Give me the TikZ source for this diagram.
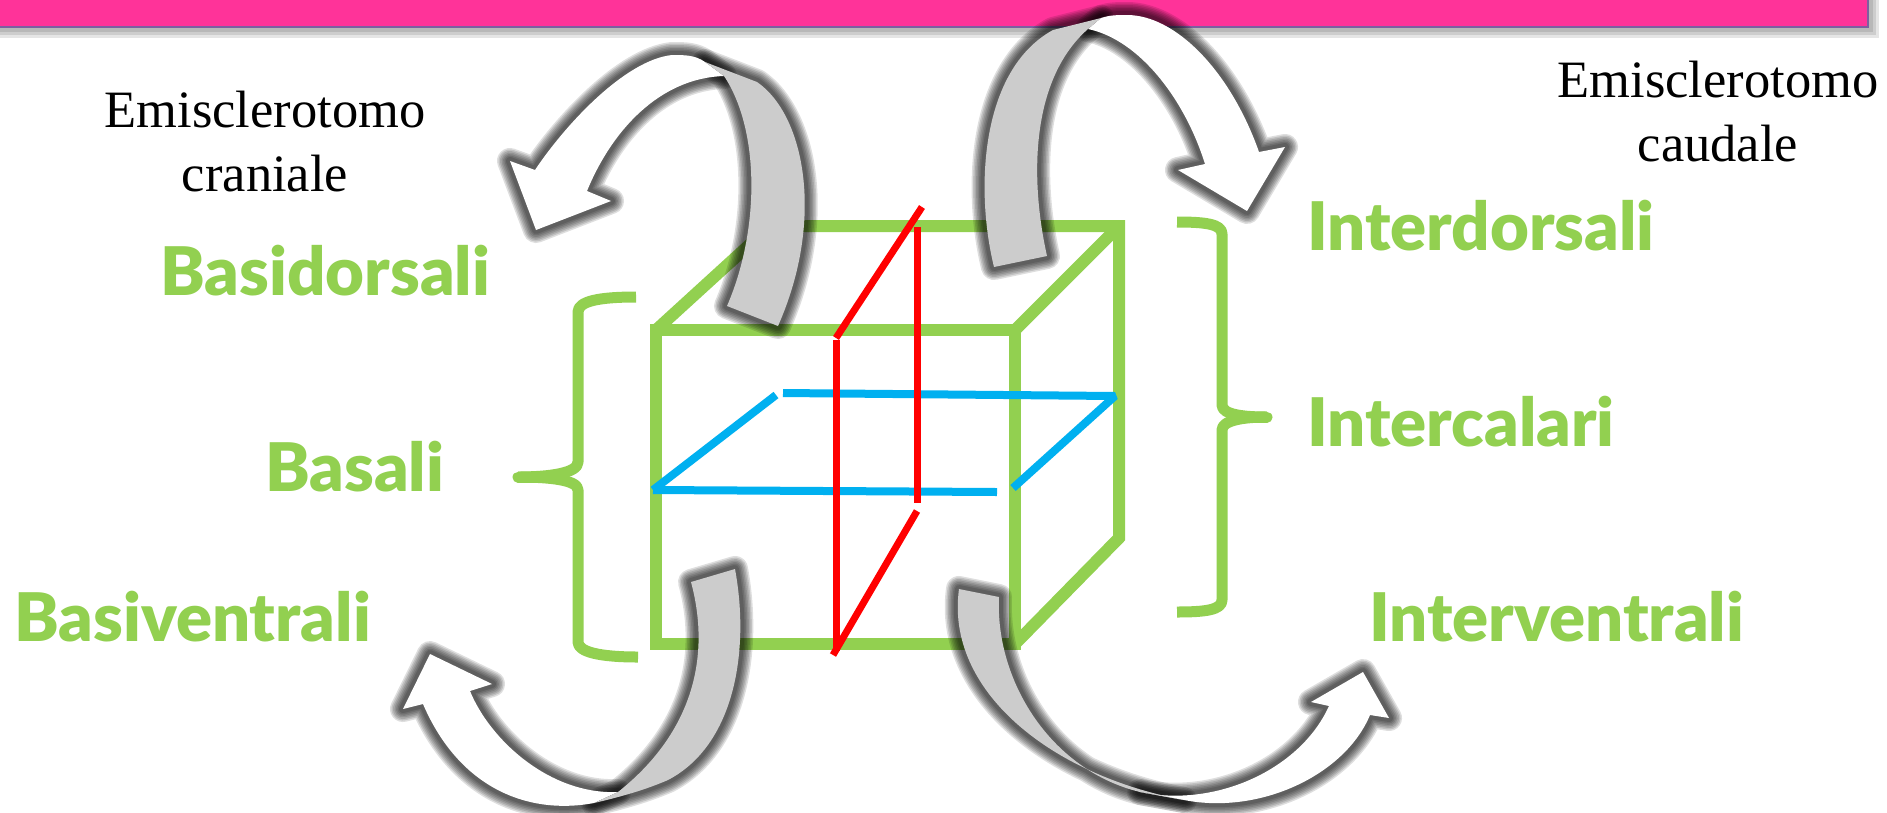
\documentclass[tikz,border=0pt]{standalone}
\usepackage{fontspec}
\setmainfont{Liberation Serif}
\newfontfamily\labelfont{Lato}[BoldFont={Lato Black}]
\usepackage{xcolor}
\definecolor{cubegreen}{RGB}{146,208,80}
\definecolor{barpink}{RGB}{255,51,153}
\definecolor{baredge}{RGB}{125,95,160}
\definecolor{planeblue}{RGB}{0,176,240}
\definecolor{bandgray}{RGB}{204,204,204}
\usetikzlibrary{
  positioning
}
\tikzset{
  cubeline/.style={draw=cubegreen, line width=12pt, line join=miter},
  redline/.style={draw=red, line width=7pt},
  blueline/.style={draw=planeblue, line width=8pt},
  bracket/.style={draw=cubegreen, line width=11pt, line join=round},
  greenlabel/.style={text=cubegreen, inner sep=0pt, anchor=base west,
    font=\labelfont\bfseries\fontsize{67}{70}\selectfont},
  blacklabel/.style={text=black, inner sep=0pt, align=center,
    font=\fontsize{52.5}{64}\selectfont},
  glow/.style={draw=black, opacity=0.13, line join=round},
  arrowface/.style={fill=white},
  bandface/.style={fill=bandgray},
}
% soft dark rim round a curved arrow
\newcommand{\glowpath}[1]{
  \foreach \w in {26,23,20,17,14,11,8} {
    \draw[glow, line width=\w pt] #1;
  }
}
\newcommand{\curvedarrow}[2]{
  \glowpath{#1}
  \glowpath{#2}
  \fill[arrowface] #1;
  \fill[bandface] #2;
}

\begin{document}
\begin{tikzpicture}[x=1pt, y=-1pt]
  \useasboundingbox (0,0) rectangle (1887,812);
  \fill[white] (0,0) rectangle (1887,812);

  % Top bar
  \foreach \w in {20,14,8} {
    \draw[draw=black, opacity=0.1, line width=\w pt] (-10,28) -- (1869,28) -- (1869,-10);
  }
  \fill[barpink, draw=baredge, line width=2pt] (-10,-10) rectangle (1868,27);

  % Cube
  \draw[cubeline] (656,330) rectangle (1015,644);
  \draw[cubeline] (656,330) -- (770,226) -- (1119,226) -- (1119,538) -- (1015,644);
  \draw[cubeline] (1015,330) -- (1119,226);

  % Blue plane
  \draw[blueline] (653,490) -- (997,492);
  \draw[blueline] (653,490) -- (776,395);
  \draw[blueline, line join=bevel] (783,393) -- (1115,396) -- (1013,488);

  % Red plane
  \draw[redline] (836,340) -- (836,651);
  \draw[redline] (917,227) -- (917,503);
  \draw[redline] (922,207) -- (836,338);
  \draw[redline] (917,511) -- (833,655);

  % Brackets
  \draw[bracket] (636,297) .. controls (600,297) and (578,301) .. (578,312)
    -- (578,462) .. controls (578,473) and (550,477) .. (518,477);
  \draw[bracket] (638,657) .. controls (600,657) and (578,652) .. (578,642)
    -- (578,490) .. controls (578,480) and (550,477) .. (518,477);
  \draw[bracket, line cap=round] (518,477) -- (535,477);
  \draw[bracket] (1177,222) .. controls (1205,222) and (1222,224) .. (1222,234)
    -- (1222,405) .. controls (1222,415) and (1245,417) .. (1267,417);
  \draw[bracket] (1177,612) .. controls (1205,612) and (1222,610) .. (1222,600)
    -- (1222,430) .. controls (1222,420) and (1245,417) .. (1267,417);
  \draw[bracket, line cap=round] (1250,417) -- (1267,417);

  % Curved arrows
  \curvedarrow{(705,62) .. controls (695,55) and (685,55) .. (672,55)
      .. controls (625,60) and (565,125) .. (535,170)
      -- (510,161) -- (536,230) -- (611,201) -- (587,191)
      .. controls (612,130) and (660,78) .. (724,76) -- cycle}
    {(705,62) -- (757,82) .. controls (805,115) and (825,220) .. (778,326)
      -- (727,306) .. controls (760,230) and (760,130) .. (724,76) -- cycle}
  \curvedarrow{(1101,18) .. controls (1110,15) and (1118,15) .. (1127,15)
      .. controls (1175,15) and (1230,70) .. (1259,152)
      -- (1285,147) -- (1247,211) -- (1178,170) -- (1205,164)
      .. controls (1185,100) and (1140,40) .. (1088,29) -- cycle}
    {(994,267) .. controls (975,190) and (980,70) .. (1053,30) -- (1101,18) -- (1088,29)
      .. controls (1030,80) and (1030,180) .. (1047,256) -- cycle}
  \curvedarrow{(594,803) .. controls (530,815) and (460,790) .. (423,704)
      -- (403,709) -- (430,654) -- (492,684) -- (470,691)
      .. controls (490,740) and (550,795) .. (618,792) -- cycle}
    {(691,582) -- (735,569) .. controls (750,650) and (735,745) .. (668,780)
      .. controls (645,790) and (620,797) .. (594,803) -- (618,792)
      .. controls (690,735) and (712,660) .. (691,582) -- cycle}
  \curvedarrow{(1140,792) .. controls (1215,808) and (1300,770) .. (1329,706)
      -- (1311,702) -- (1363,672) -- (1389,718) -- (1370,715)
      .. controls (1345,775) and (1260,815) .. (1184,800) -- cycle}
    {(959,589) -- (999,597) .. controls (995,680) and (1050,770) .. (1140,792)
      -- (1184,800) .. controls (1050,775) and (945,690) .. (959,589) -- cycle}

  % Labels
  \node[greenlabel] (basidorsali) at (160,295) {Basidorsali};
  \node[greenlabel] (basali) at (265,491) {Basali};
  \node[greenlabel] (basiventrali) at (14,641) {Basiventrali};
  \node[greenlabel] (interdorsali) at (1307,250) {Interdorsali};
  \node[greenlabel] (intercalari) at (1307,446) {Intercalari};
  \node[greenlabel] (interventrali) at (1369,641) {Interventrali};
  \node[blacklabel] (craniale) at (265,142) {Emisclerotomo\\craniale};
  \node[blacklabel] (caudale) at (1718,112) {Emisclerotomo\\caudale};
\end{tikzpicture}
\end{document}
